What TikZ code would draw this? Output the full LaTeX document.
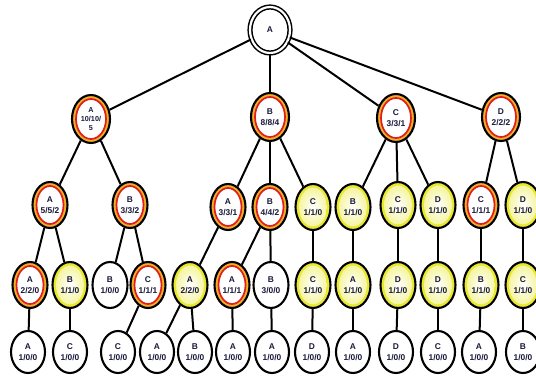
\documentclass[tikz,border=0pt]{standalone}
\usepackage{fontspec}
\setmainfont{Liberation Sans}
\usetikzlibrary{shapes.geometric}
\definecolor{ink}{RGB}{25,25,60}
\definecolor{ringor}{RGB}{240,175,40}
\definecolor{ringred}{RGB}{225,30,30}
\definecolor{ylw}{RGB}{232,232,50}
\begin{document}
\begin{tikzpicture}[x=1pt,y=-1pt,
  base/.style={ellipse, draw=black, line width=2.1pt, inner sep=0pt, align=center, text=ink,
    font=\fontsize{8.4}{11}\selectfont\bfseries},
  ringnode/.style 2 args={base, minimum width=#1pt, minimum height=#2pt, fill=ringor,
    path picture={\draw[ringred, line width=1.7pt, fill=white] (path picture bounding box.center)
      ellipse ({(#1/2-4.0)*1pt} and {(#2/2-4.0)*1pt});}},
  yelnode/.style 2 args={base, minimum width=#1pt, minimum height=#2pt, fill=ylw,
    path picture={\shade[inner color=white, outer color=ylw!55!white] (path picture bounding box.center)
      ellipse ({(#1/2-3.6)*1pt} and {(#2/2-3.6)*1pt});}},
  plainnode/.style 2 args={base, minimum width=#1pt, minimum height=#2pt, fill=white},
  rA/.style={ringnode={38}{48}},
  rB/.style={ringnode={35}{46}},
  yB/.style={yelnode={35}{46}},
  wB/.style={plainnode={35}{46}},
  wC/.style={plainnode={34}{42}},
  rootnode/.style={ellipse, draw=black, double=white, double distance=2.2pt, line width=1.5pt,
    minimum width=40pt, minimum height=46pt, inner sep=0pt, text=ink, fill=white,
    font=\fontsize{8.4}{10}\selectfont\bfseries},
  edge/.style={line width=2pt, draw=black}
]
\useasboundingbox (0,0) rectangle (536,377);
% root
\node[rootnode] (r) at (270,30) {A};
% level 1
\node[rA, font=\fontsize{7.2}{8.8}\selectfont\bfseries] (a1) at (91,119) {A\\10/10/\\5};
\node[rA] (b1) at (270,117) {B\\8/8/4};
\node[rA] (c1) at (396,118) {C\\3/3/1};
\node[rA] (d1) at (501,117) {D\\2/2/2};
% level 2
\node[rB] (n21) at (50,205) {A\\5/5/2};
\node[rB] (n22) at (130,205) {B\\3/3/2};
\node[rB] (n23) at (228,207) {A\\3/3/1};
\node[rB] (n24) at (270,207) {B\\4/4/2};
\node[yB] (n25) at (313,207) {C\\1/1/0};
\node[yB] (n26) at (353,207) {B\\1/1/0};
\node[yB] (n27) at (398,205) {C\\1/1/0};
\node[yB] (n28) at (438,205) {D\\1/1/0};
\node[rB] (n29) at (481,205) {C\\1/1/1};
\node[yB] (n210) at (523,205) {D\\1/1/0};
% level 3
\node[rB] (n31) at (30,285) {A\\2/2/0};
\node[yB] (n32) at (70,285) {B\\1/1/0};
\node[wB] (n33) at (110,285) {B\\1/0/0};
\node[rB] (n34) at (148,285) {C\\1/1/1};
\node[yB] (n35) at (190,285) {A\\2/2/0};
\node[rB] (n36) at (232,285) {A\\1/1/1};
\node[wB] (n37) at (271,285) {B\\3/0/0};
\node[yB] (n38) at (313,285) {C\\1/1/0};
\node[yB] (n39) at (353,285) {A\\1/1/0};
\node[yB] (n310) at (398,285) {D\\1/1/0};
\node[yB] (n311) at (438,285) {D\\1/1/0};
\node[yB] (n312) at (481,285) {B\\1/1/0};
\node[yB] (n313) at (523,285) {C\\1/1/0};
% level 4
\node[wC] (n41) at (28,352) {A\\1/0/0};
\node[wC] (n42) at (70,352) {C\\1/0/0};
\node[wC] (n43) at (118,352) {C\\1/0/0};
\node[wC] (n44) at (157,352) {A\\1/0/0};
\node[wC] (n45) at (195,352) {B\\1/0/0};
\node[wC] (n46) at (233,352) {A\\1/0/0};
\node[wC] (n47) at (272,352) {A\\1/0/0};
\node[wC] (n48) at (312,352) {D\\1/0/0};
\node[wC] (n49) at (353,352) {A\\1/0/0};
\node[wC] (n410) at (396,352) {D\\1/0/0};
\node[wC] (n411) at (438,352) {C\\1/0/0};
\node[wC] (n412) at (479,352) {A\\1/0/0};
\node[wC] (n413) at (523,352) {B\\1/0/0};
% edges
\foreach \s/\t in {r/a1, r/b1, r/c1, r/d1,
  a1/n21, a1/n22, b1/n23, b1/n24, b1/n25, c1/n26, c1/n27, c1/n28, d1/n29, d1/n210,
  n21/n31, n21/n32, n22/n33, n22/n34, n23/n35, n24/n36, n24/n37, n25/n38, n26/n39,
  n27/n310, n28/n311, n29/n312, n210/n313,
  n31/n41, n32/n42, n34/n43, n35/n44, n35/n45, n36/n46, n37/n47, n38/n48, n39/n49,
  n310/n410, n311/n411, n312/n412, n313/n413}
  \draw[edge] (\s) -- (\t);
\end{tikzpicture}
\end{document}
